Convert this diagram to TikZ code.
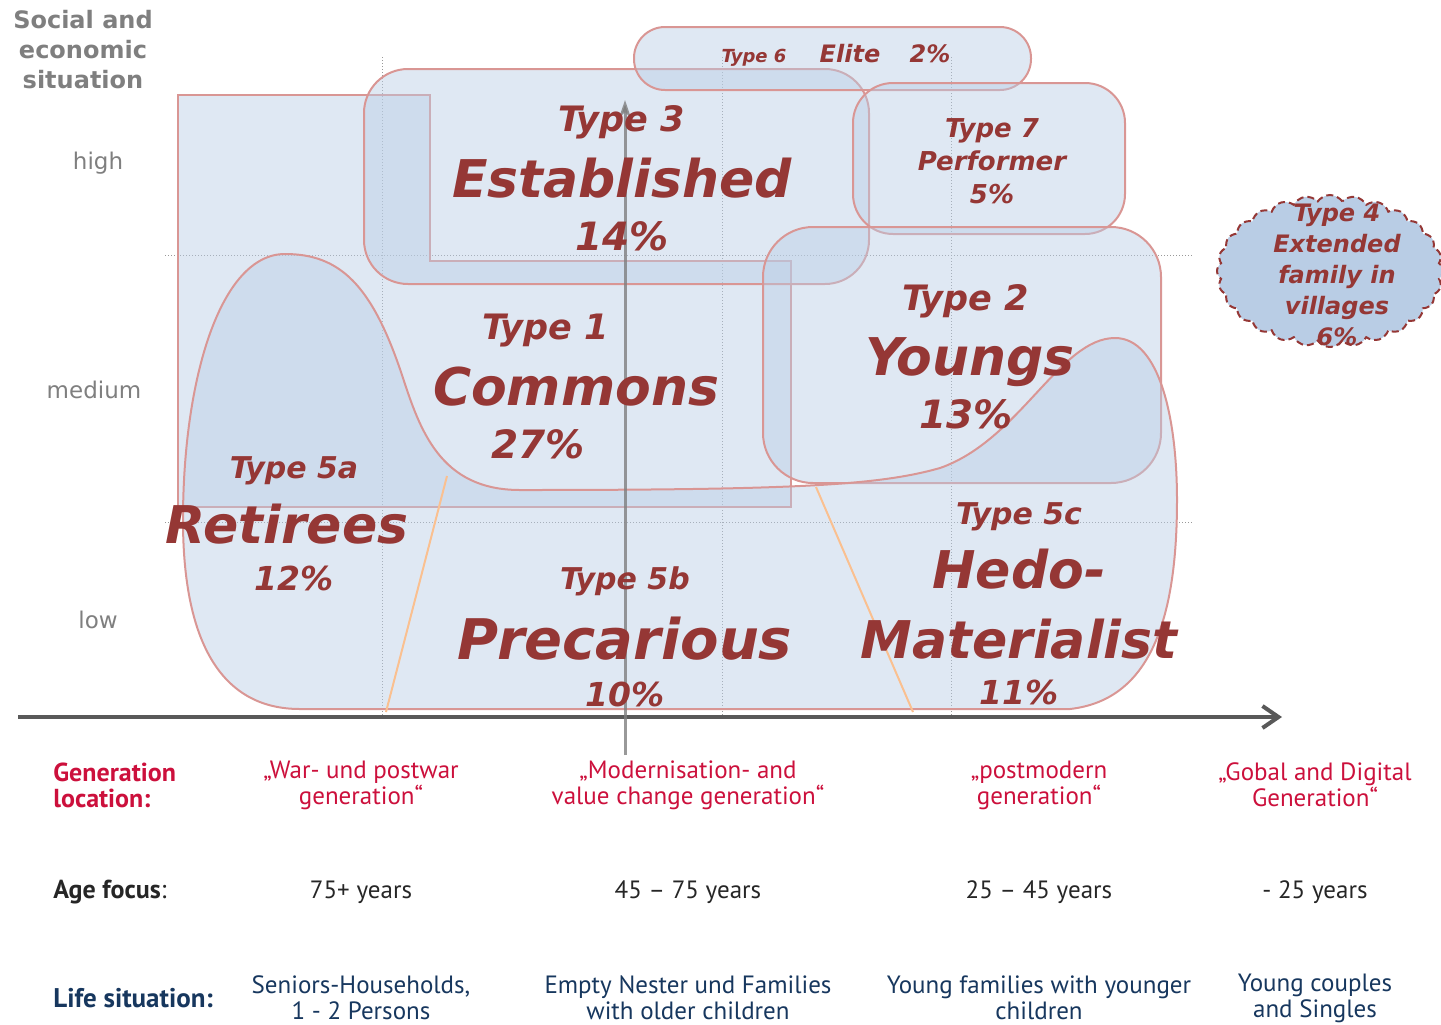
\documentclass[tikz,border=0pt]{standalone}
\usepackage{fontspec}
\setmainfont{DejaVu Sans}
\newfontfamily\rowfont{PT Sans}
\usepackage{tikz}
\usetikzlibrary{arrows.meta,shapes.symbols}

\definecolor{typered}{RGB}{149,55,53}
\definecolor{rimpink}{RGB}{217,150,148}
\definecolor{areablue}{RGB}{185,205,229}
\definecolor{axisgray}{RGB}{89,89,89}
\definecolor{softgray}{RGB}{127,127,127}
\definecolor{genred}{RGB}{204,16,60}
\definecolor{lifeblue}{RGB}{23,55,94}
\definecolor{agegray}{RGB}{38,38,38}
\definecolor{guideorange}{RGB}{250,192,144}

\tikzstyle{area}=[draw=rimpink, line width=1pt, fill=areablue, fill opacity=.45]
\tikzstyle{dotline}=[draw=softgray!80, densely dotted, line width=.5pt]
\tikzstyle{guide}=[draw=guideorange, line width=1pt]
\tikzstyle{xaxis}=[draw=axisgray, line width=2pt, -{Straight Barb[length=8pt, width=11pt, line width=2pt]}]
\tikzstyle{yaxis}=[draw=softgray, draw opacity=.8, line width=1.5pt, -{Stealth[length=9pt, width=6pt]}]
\tikzstyle{tag}=[text=typered, inner sep=0pt, anchor=mid, align=center]
\tikzstyle{typesmall}=[tag, font=\bfseries\itshape\fontsize{15pt}{18pt}\selectfont]
\tikzstyle{typemid}=[tag, font=\bfseries\itshape\fontsize{17.5pt}{20pt}\selectfont]
\tikzstyle{typebig}=[tag, font=\bfseries\itshape\fontsize{26pt}{30pt}\selectfont]
\tikzstyle{share}=[tag, font=\bfseries\itshape\fontsize{19.5pt}{22pt}\selectfont]
\tikzstyle{sharesmall}=[tag, font=\bfseries\itshape\fontsize{16.5pt}{20pt}\selectfont]
\tikzstyle{level}=[text=softgray, inner sep=0pt, anchor=mid, font=\fontsize{11.5pt}{14pt}\selectfont]
\tikzstyle{rowhead}=[inner sep=0pt, anchor=west, align=left, font=\rowfont\bfseries\fontsize{13pt}{13pt}\selectfont]
\tikzstyle{rowcell}=[inner sep=0pt, align=center, font=\rowfont\fontsize{12.5pt}{13pt}\selectfont]

\begin{document}
\begin{tikzpicture}[x=0.5pt, y=-0.5pt]
\useasboundingbox (0,0) rectangle (1441,1024);

% dotted guides
\draw[dotline] (165,255) -- (1192,255);
\draw[dotline] (165,522) -- (1192,522);
\draw[dotline] (382,57) -- (382,717);
\draw[dotline] (722,57) -- (722,717);
\draw[dotline] (951,57) -- (951,717);

% areas
\begin{scope}
  \draw[area] (178,95) -- (430,95) -- (430,261) -- (791,261) -- (791,507) -- (178,507) -- cycle;
  \draw[area, rounded corners=22pt] (364,69) rectangle (869,284);
  \draw[area, rounded corners=15.5pt] (634,27) rectangle (1031,90);
  \draw[area, rounded corners=20pt] (853,83) rectangle (1125,234);
  \draw[area, rounded corners=25pt] (763,227) rectangle (1161,483);
  \draw[area] (300,709) -- (1070,709)
    .. controls (1150,700) and (1177,620) .. (1177,500)
    .. controls (1177,420) and (1160,338) .. (1115,338)
    .. controls (1060,338) and (1020,440) .. (940,468)
    .. controls (880,485) and (800,490) .. (520,490)
    .. controls (440,490) and (420,430) .. (402,375)
    .. controls (372,285) and (340,254) .. (285,254)
    .. controls (220,254) and (183,380) .. (183,520)
    .. controls (183,640) and (220,709) .. (300,709) -- cycle;
\end{scope}

% orange guides
\coordinate (g1a) at (447,476);
\coordinate (g1b) at (386,712);
\coordinate (g2a) at (816,487);
\coordinate (g2b) at (913,712);
\draw[guide] (g1a) -- (g1b);
\draw[guide] (g2a) -- (g2b);

% axes
\coordinate (xfrom) at (18,717);
\coordinate (xto) at (1282,717);
\coordinate (yfrom) at (625,755);
\coordinate (yto) at (625,100);
\draw[xaxis] (xfrom) -- (xto);
\draw[yaxis] (yfrom) -- (yto);

% type 4 cloud
\node (t4cloud) at (1330,271)[cloud, cloud puffs=28, cloud puff arc=110, cloud ignores aspect,
  minimum width=113pt, minimum height=76pt, draw=typered, dash pattern=on 3.5pt off 2pt,
  line width=1pt, fill=areablue] {};
\node (t4text) at (1337,275)[tag, anchor=center, font=\bfseries\itshape\fontsize{12pt}{15.5pt}\selectfont]
  {Type 4\\Extended\\family in\\villages\\6\%};

% axis title and levels
\node (axtitle) at (83,50)[text=softgray, inner sep=0pt, align=center,
  font=\bfseries\fontsize{12pt}{15pt}\selectfont] {Social and\\economic\\situation};
\node (high) at (98,164)[level] {high};
\node (medium) at (94,393)[level] {medium};
\node (low) at (98,623)[level] {low};

% type labels
\node (t6) at (754,57)[tag, font=\bfseries\itshape\fontsize{9pt}{11pt}\selectfont] {Type 6};
\node (elite) at (850,57)[tag, font=\bfseries\itshape\fontsize{12pt}{14pt}\selectfont] {Elite};
\node (p6) at (930,57)[tag, font=\bfseries\itshape\fontsize{12pt}{14pt}\selectfont] {2\%};

\node (t3) at (622,126)[typemid] {Type 3};
\node (established) at (622,192)[typebig] {Established};
\node (p3) at (622,245)[share] {14\%};

\node (t7) at (992,161)[tag, anchor=center, font=\bfseries\itshape\fontsize{13pt}{16.5pt}\selectfont]
  {Type 7\\Performer\\5\%};

\node (t1) at (546,334)[typemid] {Type 1};
\node (commons) at (576,400)[typebig] {Commons};
\node (p1) at (538,453)[share] {27\%};

\node (t2) at (966,305)[typemid] {Type 2};
\node (youngs) at (970,370)[typebig] {Youngs};
\node (p2) at (966,423)[share] {13\%};

\node (t5a) at (294,473)[typesmall] {Type 5a};
\node (retirees) at (287,538)[typebig] {Retirees};
\node (p5a) at (294,585)[sharesmall] {12\%};

\node (t5b) at (625,584)[typesmall] {Type 5b};
\node (precarious) at (625,654)[typebig, font=\bfseries\itshape\fontsize{28pt}{32pt}\selectfont] {Precarious};
\node (p5b) at (625,701)[sharesmall] {10\%};

\node (t5c) at (1019,519)[typesmall] {Type 5c};
\node (hedo) at (1019,583)[typebig] {Hedo-};
\node (materialist) at (1019,653)[typebig] {Materialist};
\node (p5c) at (1019,699)[sharesmall] {11\%};

% rows below the axis
\node (genhead) at (53,785)[rowhead, text=genred] {Generation\\location:};
\node (gen1) at (361,785)[rowcell, text=genred] {„War- und postwar\\generation“};
\node (gen2) at (688,785)[rowcell, text=genred] {„Modernisation- and\\value change generation“};
\node (gen3) at (1039,785)[rowcell, text=genred] {„postmodern\\generation“};
\node (gen4) at (1315,785)[rowcell, text=genred] {„Gobal and Digital\\Generation“};

\node (agehead) at (53,892)[rowhead, text=agegray] {Age focus\textmd{:}};
\node (age1) at (361,892)[rowcell, text=agegray] {75+ years};
\node (age2) at (688,892)[rowcell, text=agegray] {45 – 75 years};
\node (age3) at (1039,892)[rowcell, text=agegray] {25 – 45 years};
\node (age4) at (1315,892)[rowcell, text=agegray] {- 25 years};

\node (lifehead) at (53,998)[rowhead, text=lifeblue, font=\rowfont\bfseries\fontsize{13.5pt}{14pt}\selectfont] {Life situation:};
\node (life1) at (361,998)[rowcell, text=lifeblue] {Seniors-Households,\\1 - 2 Persons};
\node (life2) at (688,998)[rowcell, text=lifeblue] {Empty Nester und Families\\with older children};
\node (life3) at (1039,998)[rowcell, text=lifeblue] {Young families with younger\\children};
\node (life4) at (1315,998)[rowcell, text=lifeblue] {Young couples\\and Singles};
\end{tikzpicture}
\end{document}
